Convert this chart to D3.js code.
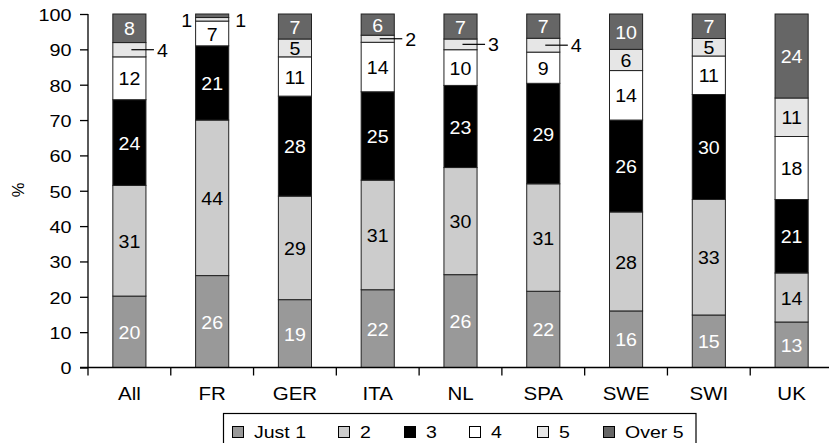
<!DOCTYPE html>
<html>
<head>
<meta charset="utf-8">
<script src="https://cdn.jsdelivr.net/npm/d3@7"></script>
<style>
  html, body { margin: 0; padding: 0; background: #fff; }
  svg { display: block; font-family: "Liberation Sans", Arial, Helvetica, sans-serif; }
</style>
</head>
<body>
<svg id="chart" width="829" height="443"></svg>
<script>
// ---- data ----
const categories = ["All", "FR", "GER", "ITA", "NL", "SPA", "SWE", "SWI", "UK"];
const seriesNames = ["Just 1", "2", "3", "4", "5", "Over 5"];
const just1  = [20, 26, 19, 22, 26, 22, 16, 15, 13];
const two    = [31, 44, 29, 31, 30, 31, 28, 33, 14];
const three  = [24, 21, 28, 25, 23, 29, 26, 30, 21];
const four   = [12,  7, 11, 14, 10,  9, 14, 11, 18];
const five   = [ 4,  1,  5,  2,  3,  4,  6,  5, 11];
const over5  = [ 8,  1,  7,  6,  7,  7, 10,  7, 24];
const yTicks = [0, 10, 20, 30, 40, 50, 60, 70, 80, 90, 100];
const yLabel = "%";

// ---- styles ----
const fills = ["#999999", "#cccccc", "#000000", "#ffffff", "#e6e6e6", "#666666"];
const labelColors = ["#ffffff", "#000000", "#ffffff", "#000000", "#000000", "#ffffff"];

const seriesValues = [just1, two, three, four, five, over5];
const rows = categories.map((c, i) => {
  const r = { cat: c };
  seriesNames.forEach((s, j) => r[s] = seriesValues[j][i]);
  return r;
});

const svg = d3.select("#chart");
const mLeft = 88, mRight = 833, mTop = 14, mBottom = 367.5;

const x = d3.scaleBand().domain(categories).range([mLeft, mRight])
  .paddingInner(0.6).paddingOuter(0.3);
const y = d3.scaleLinear().domain([0, 100]).range([mBottom, mTop]);

const stack = d3.stack().keys(seriesNames).offset(d3.stackOffsetExpand);
const stacked = stack(rows);

function stretchText(sel, px, py, sx) {
  sel.attr("x", 0).attr("y", 0)
     .attr("transform", `translate(${px},${py}) scale(${sx},1)`);
}

// bars
const layers = svg.append("g").selectAll("g").data(stacked).join("g")
  .attr("fill", (d, i) => fills[i]);
layers.selectAll("rect").data(d => d.map(v => ({ v, key: d.key }))).join("rect")
  .attr("x", d => x(d.v.data.cat))
  .attr("width", x.bandwidth())
  .attr("y", d => y(d.v[1] * 100))
  .attr("height", d => y(d.v[0] * 100) - y(d.v[1] * 100))
  .attr("stroke", "#222")
  .attr("stroke-width", 1);

// labels
const labelG = svg.append("g");
const FS = 17.5, SX = 1.12;
categories.forEach((cat, ci) => {
  const col = stacked.map(layer => layer[ci]);
  const bx = x(cat), bw = x.bandwidth(), cx = bx + bw / 2;
  const small = [];
  col.forEach((seg, si) => {
    const val = seriesValues[si][ci];
    const yc = (y(seg[0] * 100) + y(seg[1] * 100)) / 2;
    if (val >= 5) {
      const t = labelG.append("text").text(val)
        .attr("text-anchor", "middle")
        .attr("dominant-baseline", "central")
        .attr("font-size", FS)
        .attr("fill", labelColors[si]);
      stretchText(t, cx, yc + 1, SX);
    } else {
      small.push({ val, yc, si });
    }
  });
  if (small.length === 1) {
    const s = small[0];
    labelG.append("line")
      .attr("x1", cx + 2).attr("x2", bx + bw + 8)
      .attr("y1", s.yc).attr("y2", s.yc)
      .attr("stroke", "#000").attr("stroke-width", 1.2);
    const t = labelG.append("text").text(s.val)
      .attr("text-anchor", "start")
      .attr("dominant-baseline", "central")
      .attr("font-size", FS).attr("fill", "#000");
    stretchText(t, bx + bw + 11, s.yc + 1, SX);
  } else if (small.length === 2) {
    const ym = d3.mean(small, s => s.yc) + 3;
    const tr = labelG.append("text").text(small[0].val)
      .attr("text-anchor", "middle").attr("dominant-baseline", "central")
      .attr("font-size", FS).attr("fill", "#000");
    stretchText(tr, bx + bw + 12, ym, SX);
    const tl = labelG.append("text").text(small[1].val)
      .attr("text-anchor", "middle").attr("dominant-baseline", "central")
      .attr("font-size", FS).attr("fill", "#000");
    stretchText(tl, bx - 9, ym, SX);
  }
});

// y axis
const yAxisG = svg.append("g").attr("transform", `translate(${mLeft},0)`)
  .call(d3.axisLeft(y).tickValues(yTicks).tickSize(8).tickSizeOuter(0));
yAxisG.select(".domain").remove();
yAxisG.attr("font-family", null).attr("font-size", null);
yAxisG.selectAll(".tick line").attr("stroke", "#000").attr("stroke-width", 1.3);
yAxisG.selectAll(".tick text")
  .attr("x", null).attr("dy", null)
  .attr("dominant-baseline", "central")
  .attr("text-anchor", "end")
  .attr("font-size", 16.5).attr("fill", "#000")
  .attr("transform", "translate(-16.5,1) scale(1.2,1)");
svg.append("line")
  .attr("x1", mLeft).attr("x2", mLeft)
  .attr("y1", mTop).attr("y2", mBottom + 8)
  .attr("stroke", "#000").attr("stroke-width", 1.3);

// x axis
svg.append("line")
  .attr("x1", mLeft - 8).attr("x2", 829)
  .attr("y1", mBottom).attr("y2", mBottom)
  .attr("stroke", "#000").attr("stroke-width", 1.3);
const step = x.step();
svg.append("g").selectAll("line").data(categories.slice(1)).join("line")
  .attr("x1", d => x(d) - (step - x.bandwidth()) / 2)
  .attr("x2", d => x(d) - (step - x.bandwidth()) / 2)
  .attr("y1", mBottom).attr("y2", mBottom + 8)
  .attr("stroke", "#000").attr("stroke-width", 1.3);
svg.append("g").selectAll("text").data(categories).join("text")
  .text(d => d)
  .attr("text-anchor", "middle")
  .attr("font-size", 19)
  .attr("fill", "#000")
  .each(function (d) {
    stretchText(d3.select(this), x(d) + x.bandwidth() / 2, 400, 1.08);
  });

// y label
svg.append("text").text(yLabel)
  .attr("text-anchor", "middle")
  .attr("dominant-baseline", "central")
  .attr("font-size", 16.5)
  .attr("transform", "translate(18,190) rotate(-90)");

// legend
const lg = svg.append("g");
lg.append("rect").attr("x", 223.5).attr("y", 413.5).attr("width", 472.5).attr("height", 40)
  .attr("fill", "none").attr("stroke", "#000").attr("stroke-width", 1.2);
const legendX = [232, 338, 404, 469, 537, 603];
seriesNames.forEach((s, i) => {
  lg.append("rect").attr("x", legendX[i] + 0.5).attr("y", 426.5).attr("width", 11).attr("height", 11)
    .attr("fill", fills[i]).attr("stroke", "#000").attr("stroke-width", 1);
  const t = lg.append("text").text(s).attr("font-size", 16).attr("fill", "#000");
  stretchText(t, legendX[i] + 22, 438, 1.22);
});
</script>
